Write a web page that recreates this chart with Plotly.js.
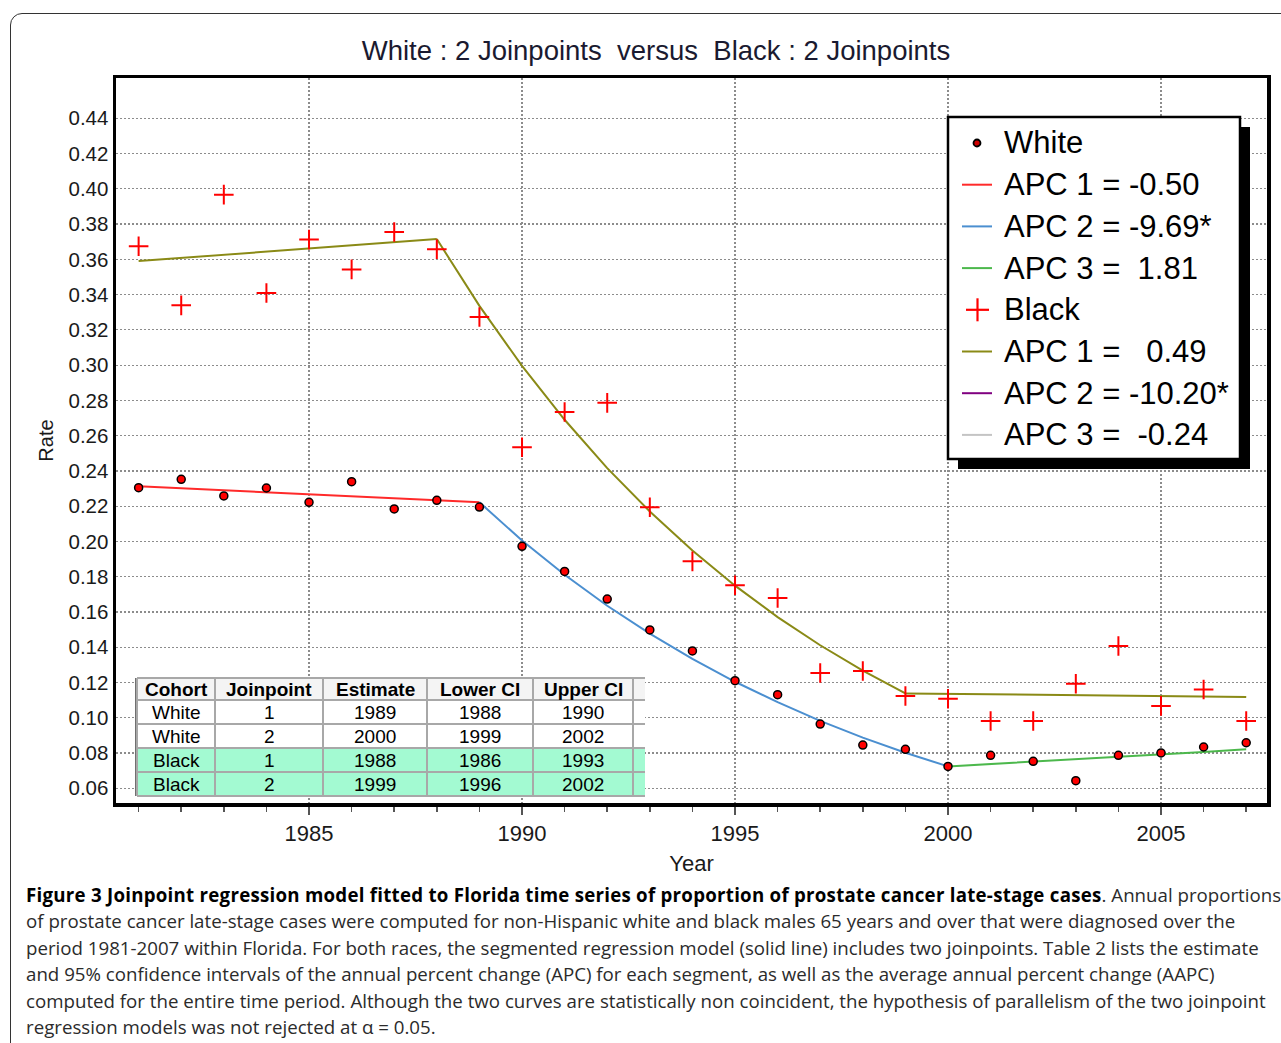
<!DOCTYPE html>
<html>
<head>
<meta charset="utf-8">
<script src="https://cdn.plot.ly/plotly-3.0.1.min.js"></script>
<style>
  html, body { margin:0; padding:0; background:#fff; width:1281px; height:1043px; overflow:hidden; }
  #chart { position:absolute; left:0; top:0; width:1281px; height:1043px; }
  #frame { position:absolute; left:10px; top:13px; width:1300px; height:1060px; border:1.5px solid #333; border-radius:12px; pointer-events:none; box-sizing:border-box; }
  #caption { position:absolute; left:26px; top:882px; font-family:"Open Sans", sans-serif; font-size:18.7px; line-height:26.4px; color:#2b2b2b; white-space:nowrap; }
  #caption b { color:#000; letter-spacing:0.25px; }
</style>
</head>
<body>
<div id="chart"></div>
<div id="frame"></div>
<div id="caption"></div>
<script>
// ---------------- data ----------------
const years = [1981,1982,1983,1984,1985,1986,1987,1988,1989,1990,1991,1992,1993,1994,1995,1996,1997,1998,1999,2000,2001,2002,2003,2004,2005,2006,2007];
const whiteRate = [0.2305,0.2352,0.2258,0.2303,0.2222,0.2339,0.2184,0.2233,0.2195,0.1972,0.1830,0.1673,0.1498,0.1379,0.1210,0.1131,0.0964,0.0845,0.0821,0.0724,0.0787,0.0753,0.0643,0.0787,0.0800,0.0834,0.0858];
const blackRate = [0.3674,0.3339,0.3967,0.3409,0.3712,0.3543,0.3755,0.3657,0.3273,0.2534,0.2734,0.2786,0.2194,0.1887,0.1751,0.1679,0.1254,0.1265,0.1123,0.1108,0.0981,0.0981,0.1193,0.1407,0.1067,0.1160,0.0981];

// fitted joinpoint segments
const whiteSeg1Years = [1981,1982,1983,1984,1985,1986,1987,1988,1989];
const whiteSeg1Fit   = [0.2313,0.2301,0.2290,0.2279,0.2267,0.2256,0.2245,0.2233,0.2222];
const whiteSeg2Years = [1989,1990,1991,1992,1993,1994,1995,1996,1997,1998,1999,2000];
const whiteSeg2Fit   = [0.2222,0.2005,0.1811,0.1635,0.1477,0.1334,0.1204,0.1088,0.0982,0.0887,0.0801,0.0724];
const whiteSeg3Years = [2000,2001,2002,2003,2004,2005,2006,2007];
const whiteSeg3Fit   = [0.0724,0.0737,0.0750,0.0764,0.0778,0.0792,0.0806,0.0821];
const blackSeg1Years = [1981,1982,1983,1984,1985,1986,1987,1988];
const blackSeg1Fit   = [0.3590,0.3608,0.3625,0.3643,0.3661,0.3679,0.3697,0.3715];
const blackSeg2Years = [1988,1989,1990,1991,1992,1993,1994,1995,1996,1997,1998,1999];
const blackSeg2Fit   = [0.3715,0.3336,0.2996,0.2690,0.2416,0.2170,0.1948,0.1749,0.1571,0.1411,0.1267,0.1138];
const blackSeg3Years = [1999,2000,2001,2002,2003,2004,2005,2006,2007];
const blackSeg3Fit   = [0.1138,0.1135,0.1133,0.1130,0.1127,0.1125,0.1122,0.1119,0.1117];

const yTickVals = [0.06,0.08,0.10,0.12,0.14,0.16,0.18,0.20,0.22,0.24,0.26,0.28,0.30,0.32,0.34,0.36,0.38,0.40,0.42,0.44];
const xTickVals = [1985,1990,1995,2000,2005];

const legendLabels = ['White','APC 1 = -0.50','APC 2 = -9.69*','APC 3 =  1.81','Black','APC 1 =   0.49','APC 2 = -10.20*','APC 3 =  -0.24'];
const legendKinds  = ['dot','line','line','line','cross','line','line','line'];
const legendColors = ['#ff0000','#ff2a2a','#4b8fd0','#4cb84c','#ff0000','#8a8a16','#800080','#c4c4c4'];

const tableHeader    = ['Cohort','Joinpoint','Estimate','Lower CI','Upper CI'];
const tableCohort    = ['White','White','Black','Black'];
const tableJoinpoint = ['1','2','1','2'];
const tableEstimate  = ['1989','2000','1988','1999'];
const tableLower     = ['1988','1999','1986','1996'];
const tableUpper     = ['1990','2002','1993','2002'];

const titleText = 'White : 2 Joinpoints\u00a0 versus\u00a0 Black : 2 Joinpoints';
const captionBold = 'Figure 3 Joinpoint regression model fitted to Florida time series of proportion of prostate cancer late-stage cases';
const captionLines = [
  '. Annual proportions',
  'of prostate cancer late-stage cases were computed for non-Hispanic white and black males 65 years and over that were diagnosed over the',
  'period 1981-2007 within Florida. For both races, the segmented regression model (solid line) includes two joinpoints. Table 2 lists the estimate',
  'and 95% confidence intervals of the annual percent change (APC) for each segment, as well as the average annual percent change (AAPC)',
  'computed for the entire time period. Although the two curves are statistically non coincident, the hypothesis of parallelism of the two joinpoint',
  'regression models was not rejected at \u03b1 = 0.05.'
];

// ---------------- layout helpers ----------------
const W = 1281, H = 1043;
const L = 116, R = 1267, T = 78, B = 803;
const X = p => (p - L) / (R - L);
const Y = p => (B - p) / (B - T);
const FONT = 'Liberation Sans, Arial, sans-serif';

const shapes = [];
const annotations = [];

// ---- legend box ----
shapes.push({type:'rect', xref:'paper', yref:'paper', x0:X(958), x1:X(1250), y0:Y(127), y1:Y(469), fillcolor:'#000', line:{width:0}, layer:'above'});
shapes.push({type:'rect', xref:'paper', yref:'paper', x0:X(948), x1:X(1240), y0:Y(117), y1:Y(459), fillcolor:'#fff', line:{color:'#000', width:2.5}, layer:'above'});
legendLabels.forEach((lab, i) => {
  const cy = 143 + i * 41.7;
  const k = legendKinds[i], c = legendColors[i];
  if (k === 'line') {
    shapes.push({type:'line', xref:'paper', yref:'paper', x0:X(962), x1:X(992), y0:Y(cy), y1:Y(cy), line:{color:c, width:2}, layer:'above'});
  } else if (k === 'dot') {
    shapes.push({type:'circle', xref:'paper', yref:'paper', x0:X(973.5), x1:X(980.5), y0:Y(cy-3.5), y1:Y(cy+3.5), fillcolor:'#d00000', line:{color:'#000', width:1.8}, layer:'above'});
  } else {
    shapes.push({type:'line', xref:'paper', yref:'paper', x0:X(966), x1:X(989), y0:Y(cy), y1:Y(cy), line:{color:c, width:2.2}, layer:'above'});
    shapes.push({type:'line', xref:'paper', yref:'paper', x0:X(977.5), x1:X(977.5), y0:Y(cy-11.5), y1:Y(cy+11.5), line:{color:c, width:2.2}, layer:'above'});
  }
  annotations.push({xref:'paper', yref:'paper', x:X(1002), y:Y(cy), xanchor:'left', yanchor:'middle', showarrow:false,
    text: lab.replace(/ {2,}/g, m => '\u00a0'.repeat(m.length)), font:{family:FONT, size:31, color:'#000'}});
});

// ---- table ----
const colX = [137, 215, 323, 427, 533, 633, 645];
const rowY = [678, 700, 724, 748, 772, 796];
const rowFill = ['#f4f4f4', '#ffffff', '#ffffff', '#a3fad2', '#a3fad2'];
for (let r = 0; r < 5; r++) {
  shapes.push({type:'rect', xref:'paper', yref:'paper', x0:X(colX[0]), x1:X(colX[6]), y0:Y(rowY[r+1]), y1:Y(rowY[r]), fillcolor:rowFill[r], line:{width:0}, layer:'above'});
}
for (let r = 0; r < rowY.length; r++) {
  shapes.push({type:'line', xref:'paper', yref:'paper', x0:X(colX[0]), x1:X(colX[6]), y0:Y(rowY[r]), y1:Y(rowY[r]), line:{color:'#a8a8a8', width:2}, layer:'above'});
}
for (let c = 0; c < colX.length - 1; c++) {
  shapes.push({type:'line', xref:'paper', yref:'paper', x0:X(colX[c]), x1:X(colX[c]), y0:Y(rowY[0]), y1:Y(rowY[5]), line:{color:'#a8a8a8', width:2}, layer:'above'});
}
shapes.push({type:'line', xref:'paper', yref:'paper', x0:X(135.5), x1:X(135.5), y0:Y(rowY[0]), y1:Y(rowY[5]), line:{color:'#707070', width:1}, layer:'above'});
const tableCols = [tableCohort, tableJoinpoint, tableEstimate, tableLower, tableUpper];
tableHeader.forEach((h, c) => {
  const cx = (colX[c] + colX[c+1]) / 2;
  annotations.push({xref:'paper', yref:'paper', x:X(cx), y:Y((rowY[0]+rowY[1])/2), xanchor:'center', yanchor:'middle', showarrow:false,
    text:h, font:{family:FONT, size:19, color:'#000', weight:'bold'}});
  tableCols[c].forEach((v, r) => {
    annotations.push({xref:'paper', yref:'paper', x:X(cx), y:Y((rowY[r+1]+rowY[r+2])/2), xanchor:'center', yanchor:'middle', showarrow:false,
      text:v, font:{family:FONT, size:19, color:'#000'}});
  });
});

// ---------------- traces ----------------
const lineTrace = (x, y, color) => ({x, y, type:'scatter', mode:'lines', line:{color, width:2}, hoverinfo:'skip', showlegend:false});
const traces = [
  lineTrace(blackSeg1Years, blackSeg1Fit, '#8a8a16'),
  lineTrace(blackSeg2Years, blackSeg2Fit, '#8a8a16'),
  lineTrace(blackSeg3Years, blackSeg3Fit, '#8a8a16'),
  lineTrace(whiteSeg1Years, whiteSeg1Fit, '#ff2a2a'),
  lineTrace(whiteSeg2Years, whiteSeg2Fit, '#4b8fd0'),
  lineTrace(whiteSeg3Years, whiteSeg3Fit, '#4cb84c'),
  {x:years, y:whiteRate, type:'scatter', mode:'markers', name:'White',
   marker:{symbol:'circle', size:8, color:'#ff0000', line:{color:'#000', width:1.5}}, showlegend:false},
  {x:years, y:blackRate, type:'scatter', mode:'markers', name:'Black',
   marker:{symbol:'cross-thin', size:14, color:'#ff0000', line:{color:'#ff0000', width:2}}, showlegend:false}
];

const layout = {
  width:W, height:H,
  margin:{l:L, r:W-R, t:T, b:H-B, pad:0},
  paper_bgcolor:'rgba(0,0,0,0)', plot_bgcolor:'#fff',
  font:{family:FONT, color:'#1a1a1a'},
  showlegend:false,
  title:{text:titleText, font:{family:FONT, size:27.5, color:'#1a1a30'}, xref:'container', yref:'container', x:656/W, y:1-50/H, xanchor:'center', yanchor:'middle'},
  xaxis:{
    range:[1980.469, 2007.488], tickmode:'array', tickvals:xTickVals, ticktext:xTickVals.map(String),
    showgrid:true, gridcolor:'#8c8c8c', gridwidth:1.2, griddash:'2px,2px',
    showline:true, linecolor:'#000', linewidth:3.5, mirror:true,
    ticks:'outside', ticklen:8, tickwidth:2, tickcolor:'#555',
    minor:{dtick:1, tick0:1981, ticks:'outside', ticklen:5, tickwidth:1.5, tickcolor:'#555', showgrid:false},
    tickfont:{family:FONT, size:22, color:'#1a1a1a'},
    title:{text:'Year', font:{family:FONT, size:22, color:'#1a1a1a'}, standoff:11},
    zeroline:false
  },
  yaxis:{
    range:[0.05163, 0.46286], tickmode:'array', tickvals:yTickVals, ticktext:yTickVals.map(v => v.toFixed(2)),
    showgrid:true, gridcolor:'#8c8c8c', gridwidth:1.2, griddash:'2px,2px',
    showline:true, linecolor:'#000', linewidth:3.5, mirror:true,
    ticks:'', tickfont:{family:FONT, size:20.5, color:'#1a1a1a'},
    title:{text:'Rate', font:{family:FONT, size:20, color:'#1a1a1a'}, standoff:10},
    zeroline:false
  },
  shapes, annotations
};

Plotly.newPlot('chart', traces, layout, {displayModeBar:false, staticPlot:true});

// caption (real text)
const cap = document.getElementById('caption');
let html = '<b>' + captionBold + '</b>' + captionLines[0];
for (let i = 1; i < captionLines.length; i++) html += '<br>' + captionLines[i];
cap.innerHTML = html;
</script>
</body>
</html>
